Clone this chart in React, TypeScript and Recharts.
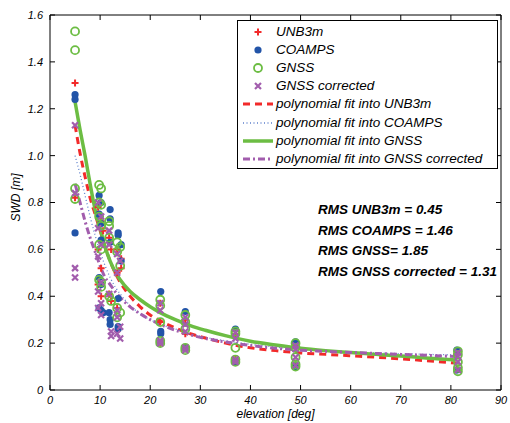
import React from "react";
import { ComposedChart, Scatter, Line, XAxis, YAxis, Legend } from "recharts";

const FONT = '"Liberation Sans", Arial, Helvetica, sans-serif';

const RED = "#f22a2a";
const BLUE = "#2254a8";
const GREEN = "#6cbd43";
const PURPLE = "#a25dad";
const DOTTED = "#5d80cc";

const X_TICKS = [0, 10, 20, 30, 40, 50, 60, 70, 80, 90];
const Y_TICKS = [0, 0.2, 0.4, 0.6, 0.8, 1.0, 1.2, 1.4, 1.6];

// observations: [elevation, SWD]
const unb3mObs: [number, number][] = [
  [5, 1.31], [5, 0.82],
  [9.6, 0.78], [9.6, 0.6], [9.6, 0.45],
  [10.2, 0.72], [10.2, 0.52], [10.2, 0.4], [10.6, 0.68],
  [11.8, 0.65], [11.8, 0.41], [12.2, 0.6], [12.2, 0.38],
  [13.4, 0.6], [13.4, 0.5], [13.4, 0.35], [14.2, 0.56], [14.2, 0.52],
  [22, 0.37], [22, 0.29], [22, 0.2],
  [27, 0.3], [27, 0.24], [27, 0.18],
  [37, 0.24], [37, 0.13],
  [49, 0.19], [49, 0.105],
  [81.2, 0.155], [81.2, 0.09],
];

const coampsObs: [number, number][] = [
  [5, 1.26], [5, 1.24], [5, 0.67],
  [9.8, 0.83], [9.8, 0.75], [9.8, 0.48], [9.8, 0.35],
  [10.2, 0.8], [10.2, 0.71], [10.2, 0.64], [10.2, 0.45], [10.2, 0.34], [10.6, 0.33],
  [12, 0.77], [12, 0.73], [12, 0.63], [12, 0.3], [12, 0.28], [11.8, 0.33],
  [13.6, 0.67], [13.6, 0.66], [13.6, 0.39], [13.6, 0.27], [13.6, 0.26],
  [14.2, 0.62], [14.2, 0.55],
  [22.1, 0.42], [22.1, 0.25], [22.1, 0.24],
  [27, 0.335], [27, 0.18],
  [37, 0.26], [37, 0.12],
  [49, 0.205], [49, 0.1],
  [81.2, 0.17], [81.2, 0.085],
];

const gnssObs: [number, number][] = [
  [5, 1.53], [5, 1.45], [5, 0.86], [5, 0.815],
  [9.8, 0.875], [9.8, 0.8], [9.8, 0.74], [9.8, 0.62], [9.8, 0.47],
  [10.2, 0.86], [10.2, 0.79], [10.2, 0.7], [10.2, 0.6], [10.2, 0.46], [10.2, 0.44],
  [11.8, 0.72], [11.8, 0.7], [11.8, 0.65], [11.8, 0.4], [12.2, 0.38],
  [13.4, 0.63], [13.4, 0.59], [13.4, 0.35], [13.4, 0.31],
  [14, 0.61], [14, 0.53], [14, 0.33],
  [22, 0.385], [22, 0.36], [22, 0.29], [22, 0.21], [22, 0.2],
  [27, 0.32], [27, 0.29], [27, 0.26], [27, 0.18], [27, 0.17],
  [37, 0.25], [37, 0.24], [37, 0.18], [37, 0.13], [37, 0.12],
  [49, 0.2], [49, 0.18], [49, 0.14], [49, 0.11], [49, 0.1],
  [81.4, 0.165], [81.4, 0.15], [81.4, 0.12], [81.4, 0.095], [81.4, 0.08],
];

const gnssCorrObs: [number, number][] = [
  [5, 1.13], [5, 0.84], [5, 0.52], [5, 0.48],
  [9.6, 0.8], [9.6, 0.69], [9.6, 0.57], [9.6, 0.42], [9.6, 0.35],
  [10.2, 0.74], [10.2, 0.62], [10.2, 0.46], [10.2, 0.37], [10.2, 0.32],
  [11.8, 0.68], [11.8, 0.62], [11.8, 0.41], [12.2, 0.25], [12.2, 0.23],
  [13.4, 0.58], [13.4, 0.5], [13.4, 0.34], [13.4, 0.31], [13.4, 0.24],
  [14, 0.55], [14, 0.27], [14, 0.22],
  [22, 0.37], [22, 0.34], [22, 0.21], [22, 0.2],
  [27, 0.31], [27, 0.28], [27, 0.25], [27, 0.18], [27, 0.17],
  [37, 0.245], [37, 0.22], [37, 0.13], [37, 0.12],
  [49, 0.19], [49, 0.175], [49, 0.14], [49, 0.105],
  [81.4, 0.16], [81.4, 0.145], [81.4, 0.12], [81.4, 0.085],
];

// polynomial fits
const fitElevation = [5, 6, 7, 8, 9, 10, 11, 12, 13, 14, 16, 18, 20, 22, 25, 28, 31, 35, 40, 45, 50, 55, 60, 65, 70, 75, 81];
const unb3mFit = [1.13, 1.01, 0.91, 0.82, 0.75, 0.68, 0.61, 0.55, 0.5, 0.46, 0.4, 0.355, 0.32, 0.295, 0.265, 0.24, 0.222, 0.2, 0.18, 0.168, 0.158, 0.152, 0.146, 0.14, 0.133, 0.125, 0.115];
const coampsFit = [1.0, 0.92, 0.83, 0.74, 0.66, 0.59, 0.53, 0.48, 0.44, 0.41, 0.36, 0.325, 0.3, 0.28, 0.26, 0.24, 0.225, 0.21, 0.195, 0.183, 0.173, 0.167, 0.162, 0.158, 0.155, 0.152, 0.15];
const gnssFit = [1.23, 1.11, 1.0, 0.88, 0.77, 0.69, 0.61, 0.55, 0.505, 0.47, 0.42, 0.385, 0.355, 0.33, 0.3, 0.275, 0.255, 0.232, 0.208, 0.192, 0.178, 0.168, 0.16, 0.152, 0.145, 0.137, 0.128];
const gnssCorrFit = [0.88, 0.8, 0.72, 0.65, 0.59, 0.53, 0.48, 0.45, 0.42, 0.395, 0.355, 0.325, 0.3, 0.28, 0.255, 0.235, 0.22, 0.205, 0.19, 0.178, 0.17, 0.165, 0.16, 0.156, 0.152, 0.148, 0.143];

const rmsLines = [
  "RMS UNB3m = 0.45",
  "RMS COAMPS = 1.46",
  "RMS GNSS= 1.85",
  "RMS GNSS corrected = 1.31",
];

const toPoints = (pairs: [number, number][]) => pairs.map(([x, y]) => ({ x, y }));
const toFit = (ys: number[]) => fitElevation.map((x, i) => ({ x, y: ys[i] }));

const PlusShape = ({ cx, cy }: any) => (
  <path d={`M${cx - 3.5},${cy}H${cx + 3.5}M${cx},${cy - 3.5}V${cy + 3.5}`} stroke={RED} strokeWidth={2} />
);
const DotShape = ({ cx, cy }: any) => <circle cx={cx} cy={cy} r={3.6} fill={BLUE} />;
const RingShape = ({ cx, cy }: any) => (
  <circle cx={cx} cy={cy} r={4} fill="none" stroke={GREEN} strokeWidth={1.8} />
);
const CrossShape = ({ cx, cy }: any) => (
  <path
    d={`M${cx - 3},${cy - 3}L${cx + 3},${cy + 3}M${cx - 3},${cy + 3}L${cx + 3},${cy - 3}`}
    stroke={PURPLE}
    strokeWidth={2.2}
  />
);

const legendEntries = [
  { label: "UNB3m", kind: "plus" },
  { label: "COAMPS", kind: "dot" },
  { label: "GNSS", kind: "ring" },
  { label: "GNSS corrected", kind: "cross" },
  { label: "polynomial fit into UNB3m", kind: "dash" },
  { label: "polynomial fit into COAMPS", kind: "dotted" },
  { label: "polynomial fit into GNSS", kind: "solid" },
  { label: "polynomial fit into GNSS corrected", kind: "dashdot" },
];

function LegendIcon({ kind }: { kind: string }) {
  const c = 16;
  let el: React.ReactNode = null;
  if (kind === "plus") el = <PlusShape cx={c} cy={9} />;
  if (kind === "dot") el = <DotShape cx={c} cy={9} />;
  if (kind === "ring") el = <RingShape cx={c} cy={9} />;
  if (kind === "cross") el = <CrossShape cx={c} cy={9} />;
  if (kind === "dash") el = <line x1={1} x2={31} y1={9} y2={9} stroke={RED} strokeWidth={3} strokeDasharray="7 5" />;
  if (kind === "dotted") el = <line x1={1} x2={31} y1={9} y2={9} stroke={DOTTED} strokeWidth={1.3} strokeDasharray="1 2.5" />;
  if (kind === "solid") el = <line x1={1} x2={31} y1={9} y2={9} stroke={GREEN} strokeWidth={3.5} />;
  if (kind === "dashdot") el = <line x1={1} x2={31} y1={9} y2={9} stroke={PURPLE} strokeWidth={3} strokeDasharray="7 3 2 3" />;
  return (
    <svg width={32} height={18} style={{ position: "absolute", left: 4, top: 0 }}>
      {el}
    </svg>
  );
}

const renderLegend = () => (
  <div
    style={{
      position: "relative",
      width: 261,
      height: 149,
      boxSizing: "border-box",
      border: "1px solid #000",
      background: "#fff",
      fontFamily: FONT,
      fontStyle: "italic",
      fontSize: 13.5,
      color: "#000",
    }}
  >
    {legendEntries.map((e, i) => (
      <div key={e.label} style={{ position: "absolute", left: 0, top: 2 + i * 18.1, height: 18, width: 259 }}>
        <LegendIcon kind={e.kind} />
        <span style={{ position: "absolute", left: 38, top: 1, lineHeight: "16px", whiteSpace: "nowrap" }}>
          {e.label}
        </span>
      </div>
    ))}
  </div>
);

const tickStyle = { fontFamily: FONT, fontStyle: "italic", fontSize: 11, fill: "#000" };
const fmtY = (v: number) => (v === 0 ? "0" : v.toFixed(1));

export default function App() {
  return (
    <div style={{ position: "absolute", left: 0, top: 0, width: 510, height: 423, background: "#fff" }}>
      <ComposedChart width={510} height={423} margin={{ top: 5, right: 0, bottom: 0, left: 0 }}>
        <XAxis
          type="number"
          dataKey="x"
          domain={[0, 90]}
          ticks={X_TICKS}
          height={33}
          tickSize={-5}
          tickMargin={11}
          stroke="#000"
          tick={tickStyle}
          allowDataOverflow
          label={{
            value: "elevation [deg]",
            position: "insideBottom",
            offset: 5,
            style: { fontFamily: FONT, fontStyle: "italic", fontSize: 12, fill: "#000" },
          }}
        />
        <XAxis
          xAxisId="top"
          orientation="top"
          type="number"
          dataKey="x"
          domain={[0, 90]}
          ticks={X_TICKS}
          height={10}
          tickSize={-5}
          tickFormatter={() => ""}
          stroke="#000"
          allowDataOverflow
        />
        <YAxis
          type="number"
          domain={[0, 1.6]}
          ticks={Y_TICKS}
          width={50}
          tickSize={-5}
          tickMargin={12}
          tickFormatter={fmtY}
          stroke="#000"
          tick={tickStyle}
          allowDataOverflow
          label={{
            value: "SWD [m]",
            angle: -90,
            position: "insideLeft",
            offset: 16,
            dy: -5,
            style: { fontFamily: FONT, fontStyle: "italic", fontSize: 12, fill: "#000", textAnchor: "middle" },
          }}
        />
        <YAxis
          yAxisId="right"
          orientation="right"
          type="number"
          domain={[0, 1.6]}
          ticks={Y_TICKS}
          width={9}
          tickSize={-5}
          tickFormatter={() => ""}
          stroke="#000"
          allowDataOverflow
        />

        <Scatter name="UNB3m" data={toPoints(unb3mObs)} dataKey="y" shape={PlusShape} isAnimationActive={false} />
        <Scatter name="COAMPS" data={toPoints(coampsObs)} dataKey="y" shape={DotShape} isAnimationActive={false} />
        <Scatter name="GNSS" data={toPoints(gnssObs)} dataKey="y" shape={RingShape} isAnimationActive={false} />
        <Scatter name="GNSS corrected" data={toPoints(gnssCorrObs)} dataKey="y" shape={CrossShape} isAnimationActive={false} />

        <Line data={toFit(unb3mFit)} dataKey="y" type="monotone" stroke={RED} strokeWidth={3} strokeDasharray="7 5" dot={false} isAnimationActive={false} />
        <Line data={toFit(coampsFit)} dataKey="y" type="monotone" stroke={DOTTED} strokeWidth={1.3} strokeDasharray="1 2.5" dot={false} isAnimationActive={false} />
        <Line data={toFit(gnssFit)} dataKey="y" type="monotone" stroke={GREEN} strokeWidth={3.5} dot={false} isAnimationActive={false} />
        <Line data={toFit(gnssCorrFit)} dataKey="y" type="monotone" stroke={PURPLE} strokeWidth={3} strokeDasharray="7 3 2 3" dot={false} isAnimationActive={false} />

        <Legend
          layout="horizontal"
          verticalAlign="middle"
          align="center"
          content={renderLegend}
          wrapperStyle={{ left: 237, top: 20, width: 261, height: 149 }}
        />
      </ComposedChart>
      {rmsLines.map((t, i) => (
        <div
          key={t}
          style={{
            position: "absolute",
            left: 318,
            top: 202 + i * 20.5,
            fontFamily: FONT,
            fontStyle: "italic",
            fontWeight: "bold",
            fontSize: 13.5,
            lineHeight: "16px",
            whiteSpace: "nowrap",
            color: "#000",
          }}
        >
          {t}
        </div>
      ))}
    </div>
  );
}
